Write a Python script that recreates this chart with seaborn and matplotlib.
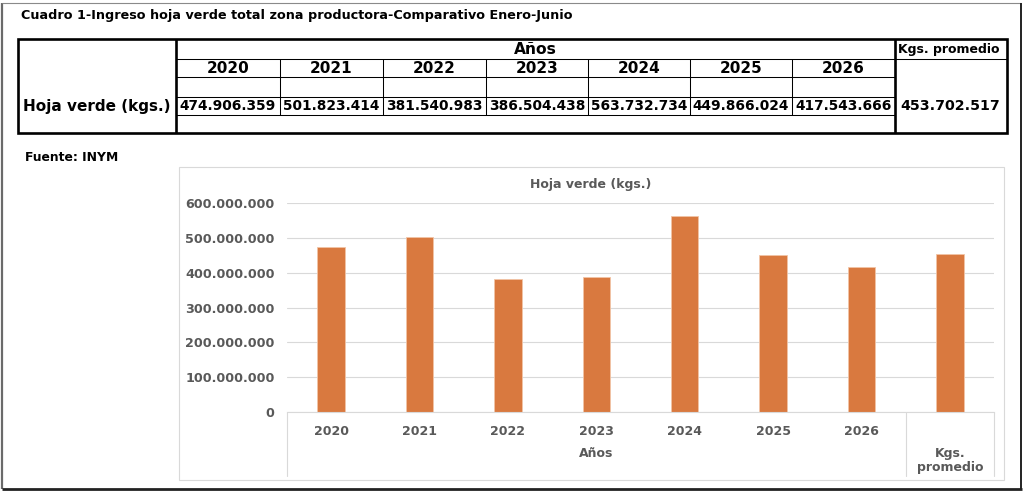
"""
Cuadro 1 - Ingreso hoja verde total zona productora (Enero-Junio).
Table with yearly values on top, bar chart below.
"""

import matplotlib
matplotlib.use("Agg")
import matplotlib.pyplot as plt
from matplotlib.ticker import FuncFormatter
from matplotlib.lines import Line2D
from matplotlib.patches import Rectangle
import seaborn as sns
import pandas as pd

# Data
years = ['2020', '2021', '2022', '2023', '2024', '2025', '2026']
hoja_verde = [474906359, 501823414, 381540983, 386504438, 563732734, 449866024, 417543666]
promedio = 453702517
promedio_label = 'Kgs.\npromedio'

title_text = 'Cuadro 1-Ingreso hoja verde total zona productora-Comparativo Enero-Junio'
row_label = 'Hoja verde (kgs.)'
source_text = 'Fuente: INYM'

BAR_COLOR = '#D9793F'
GRAY_TXT = '#595959'
GRID = '#D9D9D9'


def fmt_miles(v):
    return f"{int(round(v)):,}".replace(',', '.')


sns.set_style('white')
plt.rcParams['font.family'] = ['DejaVu Sans']
plt.rcParams['font.weight'] = 'bold'
plt.rcParams['text.color'] = 'black'

W, H = 1024, 494
fig = plt.figure(figsize=(W / 100, H / 100), dpi=100)
fig.patch.set_facecolor('white')

# Overlay axes in pixel coordinates for the table and frames
ov = fig.add_axes([0, 0, 1, 1])
ov.set_xlim(0, W)
ov.set_ylim(H, 0)
ov.axis('off')
ov.patch.set_alpha(0)


def hline(y, x0, x1, lw=0.75, color='black'):
    ov.add_line(Line2D([x0, x1], [y, y], lw=lw, color=color, solid_capstyle='butt'))


def vline(x, y0, y1, lw=0.75, color='black'):
    ov.add_line(Line2D([x, x], [y0, y1], lw=lw, color=color, solid_capstyle='butt'))


# Screenshot frame
vline(2, 3, 489, lw=1.6, color='#6a6a6a')
hline(3, 2, 1021, lw=0.8, color='#8a8a8a')
vline(1021, 3, 489, lw=1.4, color='#222222')
hline(488.5, 2, 1022, lw=2.0, color='#222222')

# Title and source
ov.text(21, 15.5, title_text, fontsize=9.2, fontweight='bold', ha='left', va='center')
ov.text(25, 157.5, source_text, fontsize=8.9, fontweight='bold', ha='left', va='center')

# ---------------------------------------------------------------------------
# Table
# ---------------------------------------------------------------------------
col_edges = [176, 279.5, 382.5, 486, 588, 690, 792, 895]
t_left, t_right, t_top, t_bot = 18, 1007, 39.5, 133
thick = 1.9

for y in [59, 77, 97, 115]:
    hline(y, col_edges[0], col_edges[-1])
hline(59, col_edges[-1], t_right)
for x in col_edges[1:-1]:
    vline(x, 59, 115)

ov.add_patch(Rectangle((t_left, t_top), t_right - t_left, t_bot - t_top,
                       fill=False, lw=thick, ec='black'))
vline(col_edges[0], t_top, t_bot, lw=thick)
vline(col_edges[-1], t_top, t_bot, lw=thick)

ov.text((col_edges[0] + col_edges[-1]) / 2, 49.5, 'Años', fontsize=11.2, fontweight='bold',
        ha='center', va='center')
ov.text((col_edges[-1] + t_right) / 2 - 2, 49.5, 'Kgs. promedio', fontsize=9,
        fontweight='bold', ha='center', va='center')
ov.text(23, 106, row_label, fontsize=11, fontweight='bold', ha='left', va='center')

for i, (yr, val) in enumerate(zip(years, hoja_verde)):
    cx = (col_edges[i] + col_edges[i + 1]) / 2
    ov.text(cx, 68.5, yr, fontsize=11, fontweight='bold', ha='center', va='center')
    ov.text(cx, 106, fmt_miles(val), fontsize=9.9, fontweight='bold', ha='center', va='center')
ov.text((col_edges[-1] + t_right) / 2 - 1, 106, fmt_miles(promedio), fontsize=10.2,
        fontweight='bold', ha='center', va='center')

# Chart box
ov.add_patch(Rectangle((179, 167), 1004 - 179, 480 - 167, fill=False, lw=0.8, ec=GRID))
ov.text(591, 184, 'Hoja verde (kgs.)', fontsize=9, fontweight='bold', color=GRAY_TXT,
        ha='center', va='center')

# ---------------------------------------------------------------------------
# Bar chart
# ---------------------------------------------------------------------------
df = pd.DataFrame({
    'categoria': years + [promedio_label],
    'kgs': hoja_verde + [promedio],
})

ax_l, ax_r, ax_t, ax_b = 287, 994, 203, 412
ax = fig.add_axes([ax_l / W, (H - ax_b) / H, (ax_r - ax_l) / W, (ax_b - ax_t) / H])
ax.patch.set_alpha(0)

sns.barplot(data=df, x='categoria', y='kgs', color=BAR_COLOR, width=0.31,
            edgecolor='#F2C4A6', linewidth=0.6, saturation=1, ax=ax)

ax.set_xlim(-0.5, len(df) - 0.5)
ax.set_ylim(0, 600000000)
ax.set_yticks(range(0, 600000001, 100000000))
ax.yaxis.set_major_formatter(FuncFormatter(lambda v, p: fmt_miles(v)))
ax.grid(True, axis='y', color=GRID, lw=0.8)
ax.set_axisbelow(True)
for s in ['top', 'right', 'left']:
    ax.spines[s].set_visible(False)
ax.spines['bottom'].set_color(GRID)
ax.spines['bottom'].set_linewidth(0.8)

ax.tick_params(axis='y', length=0, pad=9, labelsize=9.2, labelcolor=GRAY_TXT)
ax.tick_params(axis='x', length=0, pad=9, labelsize=9, labelcolor=GRAY_TXT)
ax.set_xticks(range(len(years)))
ax.set_xticklabels(years, fontweight='bold')
for lab in ax.get_yticklabels():
    lab.set_fontweight('bold')
ax.set_xlabel('')
ax.set_ylabel('')

# Category group separators and group labels
xt = ax.get_xaxis_transform()
h_px = ax_b - ax_t
sep_bottom = -(476 - ax_b) / h_px
for x in [-0.5, len(years) - 0.5, len(df) - 0.5]:
    ax.plot([x, x], [0, sep_bottom], transform=xt, color=GRID, lw=0.8, clip_on=False)

ax.text((len(years) - 1) / 2, -(453 - ax_b) / h_px, 'Años', transform=xt, fontsize=9,
        fontweight='bold', color=GRAY_TXT, ha='center', va='center')
ax.text(len(df) - 1, -(460.5 - ax_b) / h_px, promedio_label, transform=xt, fontsize=9,
        fontweight='bold', color=GRAY_TXT, ha='center', va='center', linespacing=1.15)

plt.savefig('out.png', dpi=100)
